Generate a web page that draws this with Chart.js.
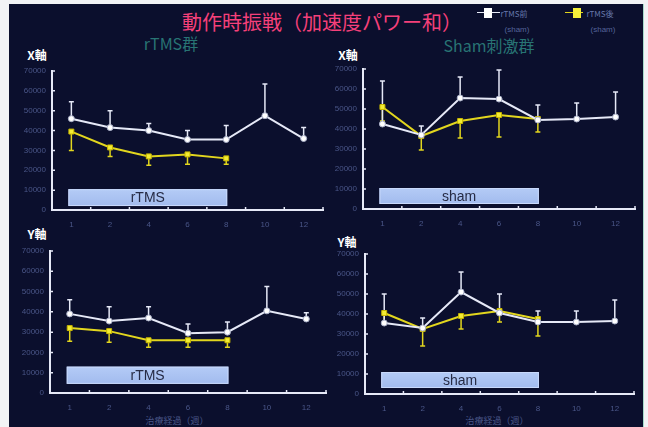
<!DOCTYPE html>
<html><head><meta charset="utf-8">
<script src="https://cdn.jsdelivr.net/npm/chart.js@4/dist/chart.umd.min.js"></script>
<style>
html,body{margin:0;padding:0;background:#f2f3f5;width:648px;height:427px;overflow:hidden;}
#board{position:absolute;left:9px;top:4px;width:634px;height:423px;background:#0b0f2d;border-right:1px solid #a6dccb;}
canvas{position:absolute;}
.t{position:absolute;white-space:nowrap;line-height:1;transform:translate(-50%,-50%);}
.jp{font-family:"Noto Sans CJK JP","Noto Sans",sans-serif;}
.lab{font-family:"Liberation Sans",Arial,sans-serif;}
</style></head><body>
<div id="board"></div>

<div class="t jp" style="left:322px;top:22px;font-size:20px;color:#f5407a;">動作時振戦（加速度パワー和）</div>
<div class="t jp" style="left:171px;top:43px;font-size:16px;color:#287474;">rTMS群</div>
<div class="t jp" style="left:489px;top:45px;font-size:16px;color:#287474;">Sham刺激群</div>
<div class="t jp" style="left:37px;top:55px;font-size:12px;font-weight:bold;color:#fff;">X軸</div>
<div class="t jp" style="left:348px;top:55px;font-size:12px;font-weight:bold;color:#fff;">X軸</div>
<div class="t jp" style="left:37px;top:234px;font-size:12px;font-weight:bold;color:#fff;">Y軸</div>
<div class="t jp" style="left:347px;top:242px;font-size:12px;font-weight:bold;color:#fff;">Y軸</div>
<div class="t jp" style="left:177px;top:420px;font-size:9px;color:#4a5688;">治療経過（週）</div>
<div class="t jp" style="left:497px;top:420px;font-size:9px;color:#4a5688;">治療経過（週）</div>

<!-- legend -->
<div style="position:absolute;left:477px;top:12px;width:23px;height:1px;background:#e8ebf8;"></div>
<div style="position:absolute;left:484px;top:8px;width:8px;height:10px;background:#fff;"></div>
<div class="t jp" style="left:514px;top:14px;font-size:8px;color:#6677aa;">rTMS前</div>
<div class="t lab" style="left:517px;top:30px;font-size:8px;color:#55639a;">(sham)</div>
<div style="position:absolute;left:565px;top:12px;width:18px;height:1px;background:#e0d41c;"></div>
<div style="position:absolute;left:573px;top:8px;width:8px;height:10px;background:#f5ef3a;"></div>
<div class="t jp" style="left:600px;top:14px;font-size:8px;color:#6677aa;">rTMS後</div>
<div class="t lab" style="left:603px;top:30px;font-size:8px;color:#55639a;">(sham)</div>

<canvas id="cA" width="325" height="180" style="left:10px;top:60px;"></canvas>
<canvas id="cB" width="318" height="180" style="left:325px;top:58px;"></canvas>
<canvas id="cC" width="325" height="180" style="left:10px;top:240px;"></canvas>
<canvas id="cD" width="318" height="180" style="left:325px;top:240px;"></canvas>

<script>
// treatment weeks
const weeks = ['1', '2', '4', '6', '8', '10', '12'];
const yMax = 70000;
const yStep = 10000;

// X-axis tremor power, rTMS group
const xRtmsPre = [46000, 41500, 40000, 35500, 35500, 47500, 36000];
const xRtmsPreSD = [8500, 8500, 3500, 4500, 7000, 16000, 5500];
const xRtmsPost = [39500, 31500, 27000, 28000, 26000, null, null];
const xRtmsPostSD = [9500, 4500, 4500, 5000, 3000, null, null];

// X-axis tremor power, sham group
const xShamPre = [42500, 37000, 55500, 55000, 44500, 45000, 46000];
const xShamPreSD = [21500, 4500, 10500, 14500, 7500, 8000, 12500];
const xShamPost = [51000, 36500, 44000, 47000, 45000, null, null];
const xShamPostSD = [7000, 7000, 8500, 11000, 6500, null, null];

// Y-axis tremor power, rTMS group
const yRtmsPre = [39000, 35500, 37000, 29500, 30000, 40500, 36500];
const yRtmsPreSD = [7000, 7000, 5500, 4500, 5000, 12000, 3000];
const yRtmsPost = [32000, 30500, 26000, 26000, 26000, null, null];
const yRtmsPostSD = [6500, 5500, 3500, 3500, 3500, null, null];

// Y-axis tremor power, sham group
const yShamPre = [35500, 33000, 51000, 40500, 36000, 36000, 36500];
const yShamPreSD = [14500, 5000, 10000, 9500, 5500, 5500, 10500];
const yShamPost = [40500, 32500, 39000, 41500, 37500, null, null];
const yShamPostSD = [5000, 8500, 6500, 5500, 8500, null, null];

// stimulation period boxes: [first week index, last week index, low, high, label]
const boxA = [0, 4, 2000, 10500, 'rTMS'];
const boxB = [0, 4, 2500, 10500, 'sham'];
const boxC = [0, 4, 4500, 13000, 'rTMS'];
const boxD = [0, 4, 3000, 11000, 'sham'];

const WHITE = '#e6e9f7';
const YELLOW = '#e2d61e';
const TICK = '#4a5688';

// period box drawn behind the series
const periodBox = {
  id: 'periodBox',
  beforeDatasetsDraw(chart, args, opts) {
    const b = opts.box; if (!b) return;
    const {ctx, scales: {x, y}} = chart;
    const x0 = x.getPixelForValue(b[0]) - 3, x1 = x.getPixelForValue(b[1]) + 1;
    const y0 = y.getPixelForValue(b[3]), y1 = y.getPixelForValue(b[2]);
    ctx.save();
    const g = ctx.createLinearGradient(0, y0, 0, y1);
    g.addColorStop(0, '#b4cbf6'); g.addColorStop(1, '#a2bbee');
    ctx.fillStyle = g;
    ctx.fillRect(x0, y0, x1 - x0, y1 - y0);
    ctx.strokeStyle = '#c9d9fb'; ctx.lineWidth = 1;
    ctx.strokeRect(x0 + 0.5, y0 + 0.5, x1 - x0 - 1, y1 - y0 - 1);
    ctx.fillStyle = '#262b45';
    ctx.font = '14px "Liberation Sans", Arial, sans-serif';
    ctx.textAlign = 'center'; ctx.textBaseline = 'middle';
    ctx.fillText(b[4], (x0 + x1) / 2, (y0 + y1) / 2 + 1);
    ctx.restore();
  }
};

// SD whiskers: up for pre, down for post
const errorBars = {
  id: 'errorBars',
  beforeDatasetsDraw(chart) {
    const {ctx, scales: {x, y}} = chart;
    ctx.save();
    chart.data.datasets.slice().reverse().forEach(ds => {
      ctx.strokeStyle = ds.borderColor; ctx.lineWidth = 1.5;
      ds.data.forEach((v, i) => {
        const sd = ds.sd[i];
        if (v == null || sd == null) return;
        const px = x.getPixelForValue(i);
        const p0 = y.getPixelForValue(v), p1 = y.getPixelForValue(v + ds.dir * sd);
        ctx.beginPath();
        ctx.moveTo(px, p0); ctx.lineTo(px, p1);
        ctx.moveTo(px - 2.5, p1); ctx.lineTo(px + 2.5, p1);
        ctx.stroke();
      });
    });
    ctx.restore();
  }
};

// short tick marks on the axis lines
const axisMarks = {
  id: 'axisMarks',
  afterDraw(chart) {
    const {ctx, chartArea: a, scales: {x, y}} = chart;
    ctx.save(); ctx.strokeStyle = WHITE; ctx.lineWidth = 1.5;
    const n = x.ticks.length;
    const half = (x.getPixelForValue(1) - x.getPixelForValue(0)) / 2;
    ctx.beginPath();
    for (let i = 0; i < n; i++) {
      const px = x.getPixelForValue(i) + half;
      ctx.moveTo(px, a.bottom); ctx.lineTo(px, a.bottom - 3);
    }
    y.ticks.forEach(t => {
      const py = y.getPixelForValue(t.value);
      ctx.moveTo(a.left, py); ctx.lineTo(a.left + 3, py);
    });
    ctx.stroke();
    ctx.restore();
  }
};

function panel(id, canvasRect, plot, pre, preSD, post, postSD, box) {
  const [cx, cy, cw, ch] = canvasRect;
  const yWidth = plot.l - cx, padRight = cx + cw - plot.r, padTop = plot.t - cy, xHeight = cy + ch - plot.b;
  const tickFont = {family: '"Liberation Sans", Arial, sans-serif', size: 8};
  new Chart(document.getElementById(id), {
    type: 'line',
    data: {
      labels: weeks,
      datasets: [
        {data: pre, sd: preSD, dir: 1, borderColor: WHITE, borderWidth: 2,
         pointStyle: 'circle', pointRadius: 3, pointBackgroundColor: '#ffffff', pointBorderColor: '#aab0c8', pointBorderWidth: 1,
         tension: 0, spanGaps: false},
        {data: post, sd: postSD, dir: -1, borderColor: YELLOW, borderWidth: 2,
         pointStyle: 'rect', pointRadius: 3.5, pointBackgroundColor: '#f3ec34', pointBorderColor: '#c9b800', pointBorderWidth: 1,
         tension: 0, spanGaps: false}
      ]
    },
    options: {
      responsive: false, animation: false, devicePixelRatio: 1,
      layout: {padding: {left: 0, right: padRight, top: padTop, bottom: 0}},
      plugins: {legend: {display: false}, tooltip: {enabled: false}, periodBox: {box}},
      scales: {
        x: {
          type: 'category', offset: true,
          grid: {display: false, drawTicks: false},
          border: {display: true, color: WHITE, width: 2},
          ticks: {color: TICK, font: tickFont, padding: 10, maxRotation: 0, autoSkip: false},
          afterFit: s => { s.height = xHeight; }
        },
        y: {
          min: 0, max: yMax,
          grid: {display: false, drawTicks: false},
          border: {display: true, color: WHITE, width: 2},
          ticks: {stepSize: yStep, color: TICK, font: tickFont, padding: 6, callback: v => String(v)},
          afterFit: s => { s.width = yWidth; }
        }
      }
    },
    plugins: [periodBox, errorBars, axisMarks]
  });
}

panel('cA', [10, 60, 325, 180], {l: 52, r: 323, t: 71, b: 210}, xRtmsPre, xRtmsPreSD, xRtmsPost, xRtmsPostSD, boxA);
panel('cB', [325, 58, 318, 180], {l: 363, r: 635, t: 69, b: 209}, xShamPre, xShamPreSD, xShamPost, xShamPostSD, boxB);
panel('cC', [10, 240, 325, 180], {l: 50, r: 326, t: 251, b: 393}, yRtmsPre, yRtmsPreSD, yRtmsPost, yRtmsPostSD, boxC);
panel('cD', [325, 240, 318, 180], {l: 365, r: 634, t: 254, b: 394}, yShamPre, yShamPreSD, yShamPost, yShamPostSD, boxD);
</script>
</body></html>
